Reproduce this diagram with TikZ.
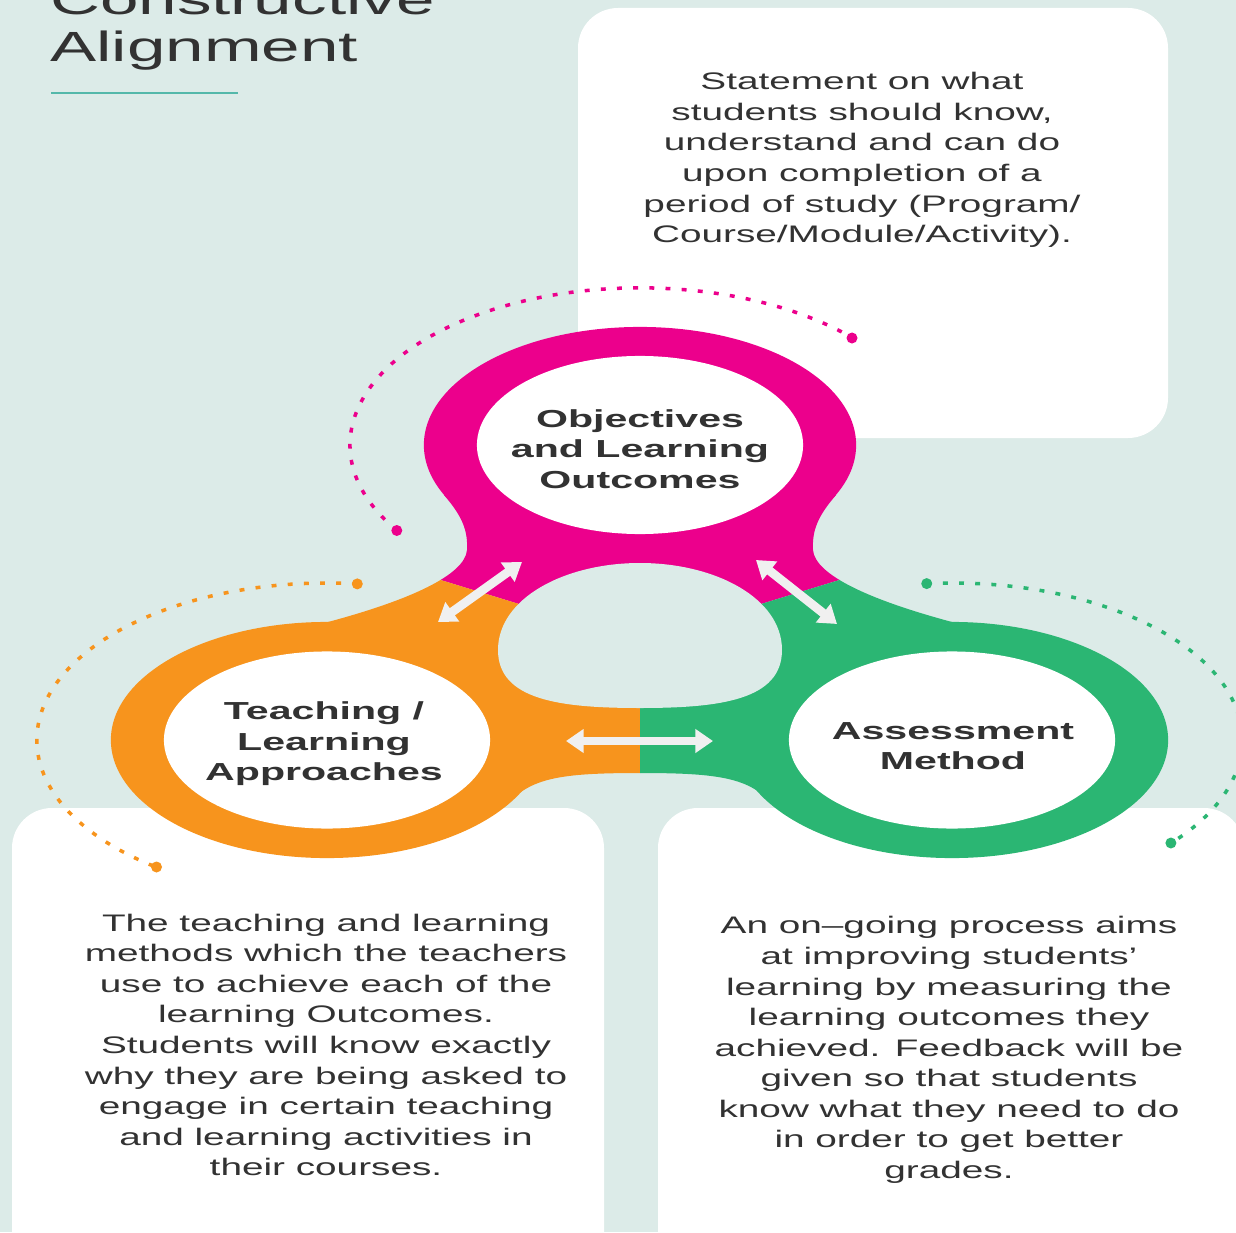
\documentclass[tikz,border=0pt]{standalone}
\usepackage{fontspec}
\setmainfont{Liberation Sans}
\usetikzlibrary{arrows.meta}

\definecolor{bgteal}{RGB}{220,235,232}
\definecolor{ringpink}{RGB}{236,0,140}
\definecolor{ringorange}{RGB}{247,148,29}
\definecolor{ringgreen}{RGB}{43,182,115}
\definecolor{lineteal}{RGB}{84,184,170}
\definecolor{inkgrey}{RGB}{50,50,50}
\definecolor{arrowgrey}{RGB}{240,240,240}

\tikzset{
  bodytext/.style={align=center, text=inkgrey, inner sep=0pt,
    font=\fontsize{6.8}{8.7}\selectfont, xscale=1.62, transform shape},
  ringtext/.style={align=center, text=inkgrey, inner sep=0pt,
    font=\bfseries\fontsize{7}{8.7}\selectfont, xscale=1.67, transform shape},
  dotarc/.style={line width=1pt, dash pattern=on 1.4pt off 3.2pt},
  twoway/.style={<->, line width=2.5pt, draw=arrowgrey},
}

\begin{document}
\begin{tikzpicture}[x=0.01cm, y=0.01cm, >={Triangle[width=6.5pt,length=5pt]}]
  % Page and background
  \useasboundingbox (0,0) rectangle (1236,1232);
  \clip (0,0) rectangle (1236,1232);
  \fill[bgteal] (0,0) rectangle (1236,1232);

  % Title
  \node[anchor=south west, align=left, inner sep=0pt, text=inkgrey,
    font=\fontsize{12}{13.4}\selectfont, xscale=1.64, transform shape]
    (title) at (49,1161) {Constructive\\Alignment};
  \draw[lineteal, line width=0.6pt] (51,1139) -- (238,1139);

  % White boxes
  \fill[white, rounded corners=4mm] (578,794) rectangle (1168,1224);
  \fill[white, rounded corners=4mm] (12,-40) rectangle (604,424);
  \fill[white, rounded corners=4mm] (658,-40) rectangle (1244,424);

  % Box texts
  \node[bodytext] (objtext) at (862,1072)
    {Statement on what\\students should know,\\understand and can do\\
     upon completion of a\\period of study (Program/\\Course/Module/Activity).};
  \node[bodytext] (teachtext) at (326,187)
    {The teaching and learning\\methods which the teachers\\use to achieve each of the\\
     learning Outcomes.\\Students will know exactly\\why they are being asked to\\
     engage in certain teaching\\and learning activities in\\their courses.};
  \node[bodytext] (assesstext) at (949,182)
    {An on--going process aims\\at improving students'\\learning by measuring the\\
     learning outcomes they\\achieved. Feedback will be\\given so that students\\
     know what they need to do\\in order to get better\\grades.};

  % Connecting body, split in three colours
  \begin{scope}
    \clip (640,787) -- (836,737)
      .. controls (818,716) and (812,702) .. (813,682)
      .. controls (815,657) and (870,632) .. (952,610)
      -- (952,492) -- (773,427)
      .. controls (750,454) and (720,459) .. (640,459)
      .. controls (560,459) and (530,454) .. (507,427)
      -- (327,492) -- (328,610)
      .. controls (410,632) and (465,657) .. (467,682)
      .. controls (468,702) and (462,716) .. (444,737) -- cycle;
    \fill[ringpink] (300,940) -- (980,940) -- (980,695) -- (640,591) -- (300,695) -- cycle;
    \fill[ringorange] (100,695) -- (300,695) -- (640,591) -- (640,300) -- (100,300) -- cycle;
    \fill[ringgreen] (640,591) -- (980,695) -- (1200,695) -- (1200,300) -- (640,300) -- cycle;
  \end{scope}

  % Rings
  \fill[ringpink] (640,787) ellipse [x radius=2.16cm, y radius=1.18cm];
  \fill[ringorange] (327,492) ellipse [x radius=2.16cm, y radius=1.18cm];
  \fill[ringgreen] (952,492) ellipse [x radius=2.16cm, y radius=1.18cm];
  \fill[white] (640,787) ellipse [x radius=1.63cm, y radius=0.89cm];
  \fill[white] (327,492) ellipse [x radius=1.63cm, y radius=0.885cm];
  \fill[white] (952,492) ellipse [x radius=1.63cm, y radius=0.885cm];

  % Hole in the middle
  \fill[bgteal] (640,669) .. controls (715,669) and (782,634) .. (782,582)
    .. controls (782,532) and (720,524) .. (640,524)
    .. controls (560,524) and (498,532) .. (498,582)
    .. controls (498,634) and (565,669) .. (640,669) -- cycle;

  % Ring labels
  \node[ringtext] (obj) at (640,783) {Objectives\\and Learning\\Outcomes};
  \node[ringtext] (teach) at (324,488) {Teaching /\\Learning\\Approaches};
  \node[ringtext] (assess) at (953,486) {Assessment\\Method};

  % Arrows between the rings
  \coordinate (ot1) at (438,610);
  \coordinate (ot2) at (522,670);
  \coordinate (og1) at (756,672);
  \coordinate (og2) at (837,608);
  \coordinate (tg1) at (566,491);
  \coordinate (tg2) at (713,491);
  \draw[twoway] (ot1) -- (ot2);
  \draw[twoway] (og1) -- (og2);
  \draw[twoway] (tg1) -- (tg2);

  % Dotted arcs
  \draw[dotarc, ringpink] (396.8,701.5) arc[start angle=213, end angle=43, x radius=2.9cm, y radius=1.57cm];
  \fill[ringpink] (396.8,701.5) circle (0.55mm) (852,894) circle (0.55mm);
  \draw[dotarc, ringorange] (357.3,648.1) arc[start angle=84, end angle=234, x radius=2.9cm, y radius=1.57cm];
  \fill[ringorange] (357.3,648.1) circle (0.55mm) (156.5,365) circle (0.55mm);
  \draw[dotarc, ringgreen] (926.7,648.4) arc[start angle=95, end angle=-41, x radius=2.9cm, y radius=1.57cm];
  \fill[ringgreen] (926.7,648.4) circle (0.55mm) (1170.9,389) circle (0.55mm);
\end{tikzpicture}
\end{document}
